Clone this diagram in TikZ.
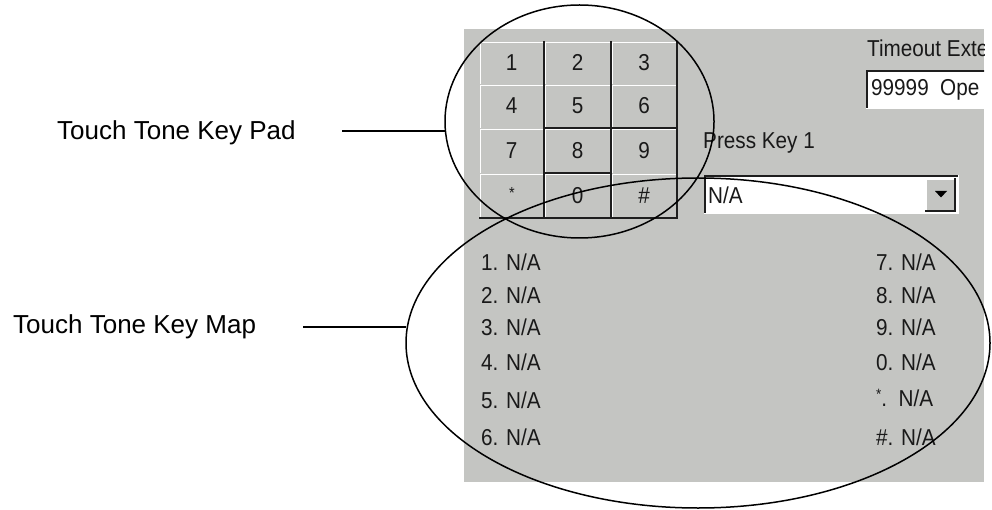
\documentclass[tikz,border=0pt]{standalone}
\usepackage{fontspec}
\setmainfont{Liberation Sans}
\newfontfamily\uifont[FakeStretch=0.9]{Liberation Sans}
\usetikzlibrary{shapes.geometric}
\definecolor{panelgray}{RGB}{196,197,194}
\definecolor{edgedark}{RGB}{30,30,30}
\definecolor{uitext}{RGB}{25,25,25}
\begin{document}
\begin{tikzpicture}[x=1pt,y=-1pt,
  lbl/.style={font=\fontsize{26}{30}\selectfont, inner sep=0, anchor=west},
  ui/.style={font=\uifont\fontsize{23}{25}\selectfont, inner sep=0, anchor=west, text=uitext},
  keylbl/.style={font=\uifont\fontsize{23}{25}\selectfont, inner sep=0, text=uitext},
  callout/.style={draw, ellipse, line width=1.5pt, inner sep=0, outer sep=0},
  lead/.style={line width=1.5pt},
  hilite/.style={white, line width=1.5pt},
  shade/.style={edgedark, line width=2pt}]
\useasboundingbox (0,0) rectangle (992,510);
% panel
\fill[panelgray] (464,29) rectangle (984,482);
% keypad buttons
\foreach \xa/\xb/\ya/\yb/\t/\n in {
  479/544/41/84/1/k1, 544/611/41/84/2/k2, 611/677/41/84/3/k3,
  479/544/84/128/4/k4, 544/611/84/128/5/k5, 611/677/84/128/6/k6,
  479/544/128/173/7/k7, 544/611/128/173/8/k8, 611/677/128/173/9/k9,
  544/611/173/218/0/k0, 611/677/173/218/\#/khash} {
  \draw[hilite] (\xa+1.5,\yb) -- (\xa+1.5,\ya+1.5) -- (\xb,\ya+1.5);
  \node[keylbl] (\n) at ({(\xa+\xb)/2},{(\ya+\yb)/2}) {\t};
}
\draw[hilite] (480.5,218) -- (480.5,174.5) -- (544,174.5);
\node[keylbl, font=\uifont\fontsize{16}{16}\selectfont] (kstar) at (512,193) {*};
\draw[shade] (544,41) -- (544,218);
\draw[shade] (611,41) -- (611,218);
\draw[shade] (677,41) -- (677,219);
\draw[shade] (479,218) -- (677,218);
\draw[shade] (544,128) -- (677,128);
\draw[shade] (544,173) -- (611,173);
% timeout field
\begin{scope}
\clip (464,29) rectangle (984,482);
\node[ui] (timeoutlbl) at (867,48) {Timeout Exte};
\fill[white] (866,70) rectangle (990,108);
\draw[shade] (867,108) -- (867,71) -- (990,71);
\draw[hilite] (866,108.5) -- (990,108.5);
\node[ui] (timeoutval) at (871,90) {99999\ \ Ope};
\end{scope}
% press key combo
\node[ui] (presslbl) at (703,143) {Press Key 1};
\fill[white] (704,175) rectangle (958,213);
\draw[shade] (705,213) -- (705,176) -- (958,176);
\draw[hilite] (704,213.5) -- (958.5,213.5) -- (958.5,175);
\fill[panelgray] (925,178) rectangle (955,211);
\draw[hilite] (926,211) -- (926,179) -- (955,179);
\draw[shade] (925,211) -- (955,211) -- (955,178);
\fill[black] (935,191) -- (947,191) -- (941,197.5) -- cycle;
\node[ui] (comboval) at (708,195) {N/A};
% key map list
\foreach \t/\y/\n in {1/262/m1, 2/295/m2, 3/327/m3, 4/362/m4, 5/400/m5, 6/437/m6} {
  \node[ui] (\n) at (481,\y) {\t. N/A};
}
\foreach \t/\y/\n in {7/262/m7, 8/295/m8, 9/327/m9, 0/362/m0, \#/437/mhash} {
  \node[ui] (\n) at (876,\y) {\t. N/A};
}
\node[ui] (mstar) at (876,398) {\raisebox{0.3em}{\fontsize{15}{15}\selectfont *}.\ \ N/A};
% callout labels
\node[lbl] (padlabel) at (57,133) {Touch Tone Key Pad};
\node[lbl] (maplabel) at (13,327) {Touch Tone Key Map};
% ellipses
\node[callout, minimum width=269pt, minimum height=233pt] (padell) at (579.5,121.5) {};
\node[callout, minimum width=584pt, minimum height=330pt] (mapell) at (698,343) {};
% leaders
\coordinate (padlead) at (342,131);
\coordinate (maplead) at (303,327);
\draw[lead] (padlead) -- (padlead -| padell.west);
\draw[lead] (maplead) -- (maplead -| mapell.west);
\end{tikzpicture}
\end{document}
